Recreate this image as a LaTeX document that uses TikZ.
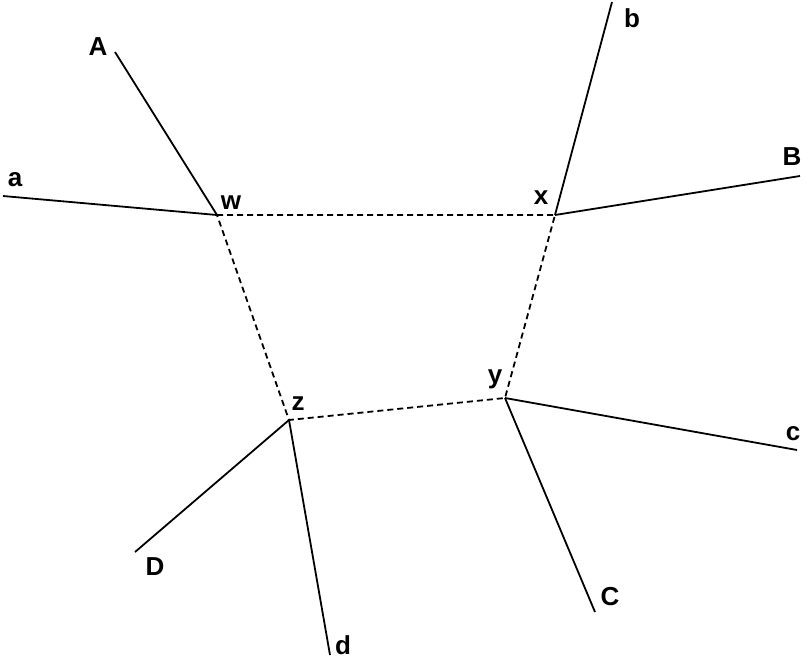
\documentclass[tikz,border=0pt]{standalone}
\usepackage{fontspec}
\setmainfont{Liberation Sans}
\begin{document}
\begin{tikzpicture}[x=1pt,y=-1pt,
  lbl/.style={font=\bfseries\fontsize{26}{26}\selectfont,inner sep=0pt},
  edge/.style={line width=1.8pt},
  dedge/.style={line width=1.8pt,dash pattern=on 6pt off 4pt}]
\useasboundingbox (0,0) rectangle (808,659);
\coordinate (w) at (217,215);
\coordinate (x) at (555,215);
\coordinate (y) at (505,398);
\coordinate (z) at (289,420);
\coordinate (eA) at (115,52);
\coordinate (ea) at (3,196);
\coordinate (eb) at (612,2);
\coordinate (eB) at (800,176);
\coordinate (ec) at (797,450);
\coordinate (eC) at (595,612);
\coordinate (ed) at (330,655);
\coordinate (eD) at (135,552);
\draw[edge] (w) -- (eA); \draw[edge] (w) -- (ea);
\draw[edge] (x) -- (eb); \draw[edge] (x) -- (eB);
\draw[edge] (y) -- (ec); \draw[edge] (y) -- (eC);
\draw[edge] (z) -- (ed); \draw[edge] (z) -- (eD);
\draw[dedge] (w) -- (x) -- (y) -- (z) -- cycle;
\node[lbl] (lA) at (98,47) {A};
\node[lbl] (la) at (15,180) {a};
\node[lbl] (lb) at (632,18) {b};
\node[lbl] (lB) at (792,157) {B};
\node[lbl] (lc) at (793,434) {c};
\node[lbl] (lC) at (610,597) {C};
\node[lbl] (ld) at (343,645) {d};
\node[lbl] (lD) at (155,567) {D};
\node[lbl] (lw) at (231,203) {w};
\node[lbl] (lx) at (541,198) {x};
\node[lbl] (ly) at (495,379) {y};
\node[lbl] (lz) at (298,404) {z};
\end{tikzpicture}
\end{document}
